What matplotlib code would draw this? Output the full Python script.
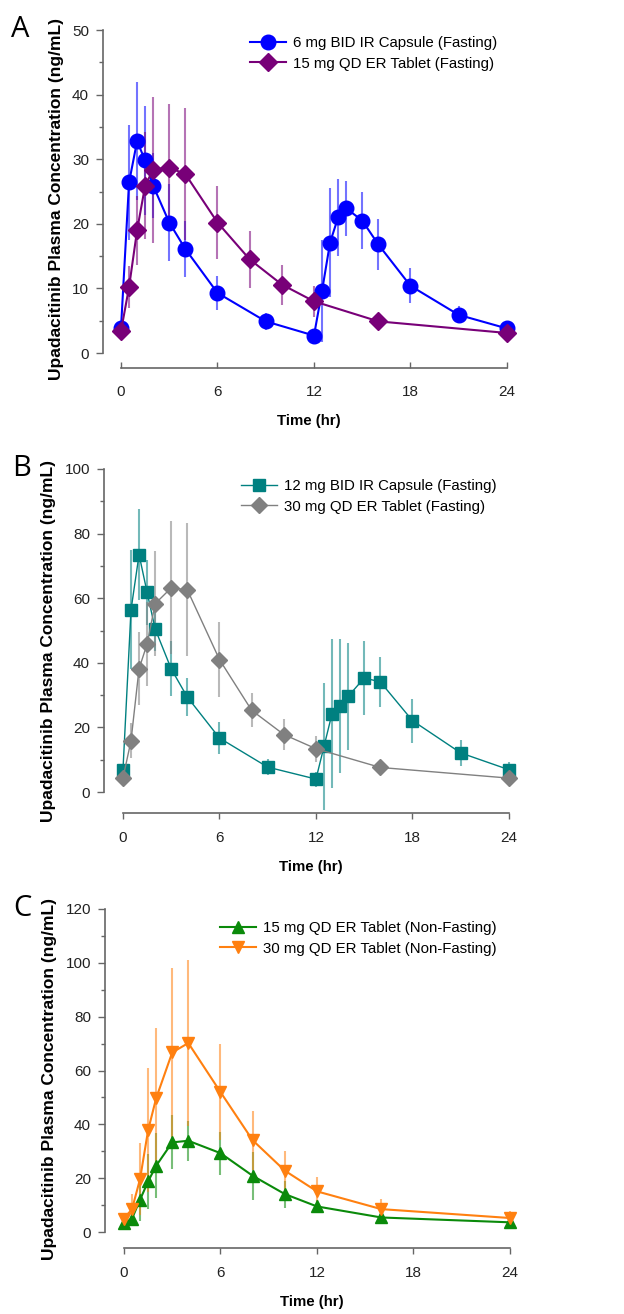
import matplotlib
matplotlib.use("Agg")
import matplotlib.pyplot as plt
from matplotlib.ticker import MultipleLocator

plt.rcParams["font.family"] = ["Liberation Sans", "DejaVu Sans"]

# ------------------------------
# Data (mean +/- SD)
# ------------------------------
t_bid = [0, 0.5, 1, 1.5, 2, 3, 4, 6, 9, 12, 12.5, 13, 13.5, 14, 15, 16, 18, 21, 24]
t_qd = [0, 0.5, 1, 1.5, 2, 3, 4, 6, 8, 10, 12, 16, 24]

# Panel A
a_ir6 = [3.9, 26.4, 32.8, 29.8, 25.9, 20.2, 16.1, 9.3, 4.9, 2.7, 9.6, 17.1, 21.0, 22.4, 20.5, 16.8, 10.4, 5.9, 3.8]
a_ir6_sd = [0.6, 8.9, 9.1, 8.4, 5.0, 6.0, 4.4, 2.6, 1.3, 0.5, 7.9, 8.5, 6.0, 4.3, 4.4, 3.9, 2.7, 1.3, 0.5]
a_er15 = [3.4, 10.2, 19.0, 25.9, 28.4, 28.7, 27.7, 20.2, 14.5, 10.6, 8.0, 4.9, 3.1]
a_er15_sd = [0.5, 3.3, 5.3, 8.3, 11.3, 9.8, 10.2, 5.6, 4.4, 3.1, 2.4, 0.8, 0.4]

# Panel B
b_ir12 = [6.9, 56.4, 73.5, 61.8, 50.5, 38.1, 29.4, 16.7, 7.7, 4.0, 14.1, 24.3, 26.7, 29.6, 35.3, 34.1, 22.1, 12.1, 6.9]
b_ir12_sd = [1.5, 18.4, 14.1, 10.0, 7.0, 8.5, 6.0, 5.0, 2.5, 2.3, 19.6, 23.0, 20.7, 16.6, 11.6, 7.7, 6.8, 4.0, 2.5]
b_er30 = [4.3, 15.9, 38.2, 45.8, 58.3, 63.2, 62.6, 41.0, 25.3, 17.8, 13.4, 7.6, 4.3]
b_er30_sd = [0.8, 5.4, 11.3, 13.0, 16.3, 20.6, 20.6, 11.5, 5.2, 4.8, 4.0, 1.0, 0.8]

# Panel C
c_er15 = [3.3, 5.0, 12.0, 18.8, 24.6, 33.3, 33.9, 29.3, 20.9, 14.1, 9.5, 5.4, 3.6]
c_er15_sd = [0.8, 2.5, 8.0, 10.3, 12.0, 10.0, 7.5, 8.0, 9.0, 5.0, 2.5, 1.2, 0.5]
c_er30 = [5.0, 8.5, 19.7, 37.8, 49.7, 66.7, 70.2, 52.0, 34.1, 22.8, 15.1, 8.5, 5.2]
c_er30_sd = [2.0, 5.5, 13.4, 23.0, 26.0, 31.4, 31.0, 17.8, 11.0, 7.2, 5.3, 3.7, 2.7]

x_ticks = [0, 6, 12, 18, 24]

panels = [
    dict(letter="A", rect=[103 / 624, 1 - 368 / 1314, 412 / 624, 338 / 1314],
         xlim=(-1.12, 24.5), ylim=(-2.32, 50), ymajor=10, yminor=5, xtickdir="in",
         leg_anchor=(0.357, 0.981),
         series=[
             dict(t=t_bid, y=a_ir6, sd=a_ir6_sd, color="#0000FF", marker="o", ms=10.5, lw=1.5,
                  label="6 mg BID IR Capsule (Fasting)"),
             dict(t=t_qd, y=a_er15, sd=a_er15_sd, color="#780078", marker="D", ms=9.5, lw=1.5,
                  label="15 mg QD ER Tablet (Fasting)"),
         ]),
    dict(letter="B", rect=[104 / 624, 1 - 813 / 1314, 413 / 624, 344 / 1314],
         xlim=(-1.18, 24.5), ylim=(-6.5, 100), ymajor=20, yminor=10, xtickdir="out",
         leg_anchor=(0.332, 0.970),
         series=[
             dict(t=t_bid, y=b_ir12, sd=b_ir12_sd, color="#008080", marker="s", ms=8.5, lw=1.0,
                  label="12 mg BID IR Capsule (Fasting)"),
             dict(t=t_qd, y=b_er30, sd=b_er30_sd, color="#808080", marker="D", ms=8.5, lw=1.0,
                  label="30 mg QD ER Tablet (Fasting)"),
         ]),
    dict(letter="C", rect=[105 / 624, 1 - 1248 / 1314, 413 / 624, 339 / 1314],
         xlim=(-1.18, 24.5), ylim=(-5.94, 120), ymajor=20, yminor=10, xtickdir="out",
         leg_anchor=(0.278, 0.964),
         series=[
             dict(t=t_qd, y=c_er15, sd=c_er15_sd, color="#0A8A0A", marker="^", ms=8.5, lw=1.5,
                  label="15 mg QD ER Tablet (Non-Fasting)"),
             dict(t=t_qd, y=c_er30, sd=c_er30_sd, color="#FF8010", marker="v", ms=8.5, lw=1.5,
                  label="30 mg QD ER Tablet (Non-Fasting)"),
         ]),
]

fig = plt.figure(figsize=(6.24, 13.14), dpi=100)

for p in panels:
    ax = fig.add_axes(p["rect"])
    handles = []
    for s in p["series"]:
        ax.errorbar(s["t"], s["y"], yerr=s["sd"], fmt="none", ecolor=s["color"],
                    elinewidth=1.5, alpha=0.55, capsize=0, zorder=2, clip_on=False)
        h, = ax.plot(s["t"], s["y"], color=s["color"], lw=s["lw"], marker=s["marker"],
                     ms=s["ms"], mfc=s["color"], mec=s["color"], label=s["label"],
                     zorder=3, clip_on=False)
        handles.append(h)

    ax.set_xlim(*p["xlim"])
    ax.set_ylim(*p["ylim"])
    ax.set_xticks(x_ticks)
    ax.yaxis.set_major_locator(MultipleLocator(p["ymajor"]))
    ax.yaxis.set_minor_locator(MultipleLocator(p["yminor"]))

    for side in ("top", "right"):
        ax.spines[side].set_visible(False)
    ax.spines["left"].set_bounds(0, p["ylim"][1])
    ax.spines["bottom"].set_bounds(0, 24)
    for side in ("left", "bottom"):
        ax.spines[side].set_color("#666666")
        ax.spines[side].set_linewidth(1.2)

    ax.tick_params(axis="y", which="major", direction="out", length=5, width=1,
                   color="#666666", pad=5, labelsize=11, labelcolor="#222222")
    ax.tick_params(axis="y", which="minor", direction="out", length=3, width=1, color="#666666")
    ax.tick_params(axis="x", which="major", direction=p["xtickdir"], length=4, width=1,
                   color="#666666", pad=12 if p["xtickdir"] == "in" else 9,
                   labelsize=11, labelcolor="#222222")

    ax.set_xlabel("Time (hr)", fontsize=10.8, fontweight="bold", labelpad=11)
    ax.set_ylabel("Upadacitinib Plasma Concentration (ng/mL)", fontsize=12.5,
                  fontweight="bold", labelpad=6)

    ax.legend(handles=handles, loc="upper left", bbox_to_anchor=p["leg_anchor"],
              frameon=False, fontsize=10.8, borderpad=0, borderaxespad=0,
              handlelength=2.4, handletextpad=0.45, labelspacing=0.42, numpoints=1)

    ax.annotate(p["letter"], xy=(0, 1), xycoords="axes fraction",
                xytext=(-66, 11), textcoords="offset points", fontsize=21,
                family=["Open Sans", "DejaVu Sans"], ha="left", va="top")

fig.savefig("out.png", dpi=100)
